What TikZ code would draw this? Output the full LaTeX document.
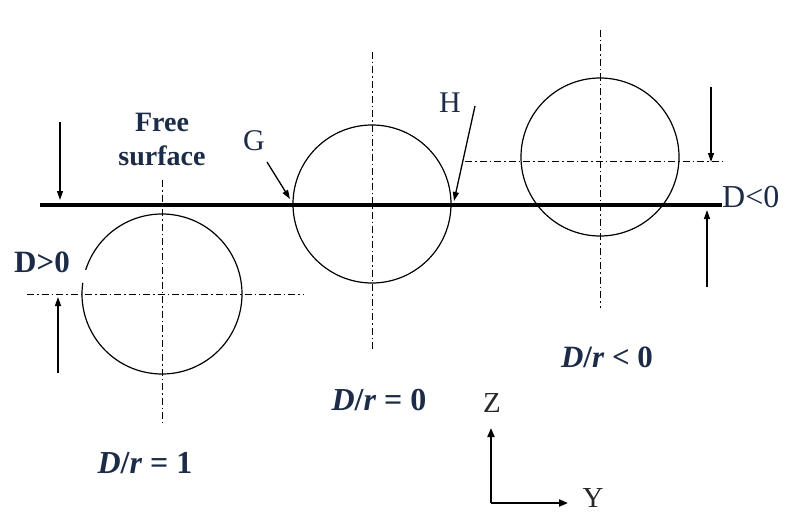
\documentclass[tikz,border=0pt]{standalone}
\usepackage{fontspec}
\setmainfont{Liberation Serif}
\usetikzlibrary{arrows.meta}
\definecolor{navy}{RGB}{28,44,72}
\definecolor{axgray}{RGB}{40,40,40}
\begin{document}
\begin{tikzpicture}[x=1pt,y=-1pt,
  ctr/.style={line width=0.9pt, dash pattern=on 7pt off 3pt on 1.5pt off 3pt},
  circ/.style={line width=1.2pt},
  darr/.style={line width=1.3pt, -{Triangle[length=9pt,width=6pt]}},
  axarr/.style={line width=2pt, -{Triangle[length=9pt,width=7pt]}},
  blab/.style={text=navy, font=\fontsize{32}{34}\selectfont\bfseries, inner sep=0pt},
  rlab/.style={text=navy, font=\fontsize{30}{32}\selectfont, inner sep=0pt},
  axlab/.style={text=axgray, font=\fontsize{29}{32}\selectfont, inner sep=0pt}]
\useasboundingbox[fill=white] (0,0) rectangle (787,519);
% centres
\coordinate (c1) at (162,294);
\coordinate (c2) at (372,204);
\coordinate (c3) at (600,157);
% centre lines
\draw[ctr] (162,180) -- (162,423);
\draw[ctr] (27,294) -- (303,294);
\draw[ctr] (372,52) -- (372,350);
\draw[ctr] (600,30) -- (600,308);
\draw[ctr] (465,161) -- (722,161);
% circles
\draw[circ] (c1) ++(172:80pt) arc[start angle=172, end angle=522.5, radius=80pt];
\draw[circ] (c2) circle[radius=79pt];
\draw[circ] (c3) circle[radius=79pt];
% free surface
\coordinate (sL) at (40,205);
\coordinate (sR) at (722,205);
\draw[line width=4pt] (sL) -- (sR);
% arrows
\coordinate (a1s) at (60,122); \coordinate (a1e) at (60,200);
\coordinate (a2s) at (58,373); \coordinate (a2e) at (58,297);
\coordinate (a3s) at (711,87); \coordinate (a3e) at (711,162);
\coordinate (a4s) at (707,287); \coordinate (a4e) at (707,210);
\coordinate (gs) at (267,162); \coordinate (ge) at (290,199);
\coordinate (hs) at (475,106); \coordinate (he) at (454,201);
\draw[darr] (a1s) -- (a1e);
\draw[darr] (a2s) -- (a2e);
\draw[darr] (a3s) -- (a3e);
\draw[darr] (a4s) -- (a4e);
\draw[darr] (gs) -- (ge);
\draw[darr] (hs) -- (he);
% axes
\coordinate (o) at (491,503);
\coordinate (zt) at (491,428);
\coordinate (yt) at (568,503);
\draw[axarr] (o) -- (zt);
\draw[axarr] (o) -- (yt);
% labels
\node[blab, font=\fontsize{28}{34}\selectfont\bfseries, align=center, anchor=base] (fs) at (162,165) {Free\\surface};
\node[blab, font=\fontsize{31}{34}\selectfont\bfseries, anchor=base] (dpos) at (42,272) {D>0};
\node[rlab, font=\fontsize{32}{34}\selectfont, anchor=base west] (dneg) at (722,207) {D<0};
\node[rlab, anchor=base] (G) at (254,150) {G};
\node[rlab, anchor=base] (H) at (450,112) {H};
\node[blab, anchor=base] (r1) at (145,473) {\textit{D}/\textit{r} = 1};
\node[blab, anchor=base] (r0) at (379,410) {\textit{D}/\textit{r} = 0};
\node[blab, font=\fontsize{31}{34}\selectfont\bfseries, anchor=base] (rn) at (607,367) {\textit{D}/\textit{r} < 0};
\node[axlab, anchor=base] (Z) at (492,412) {Z};
\node[axlab, anchor=base] (Y) at (593,507) {Y};
\end{tikzpicture}
\end{document}
